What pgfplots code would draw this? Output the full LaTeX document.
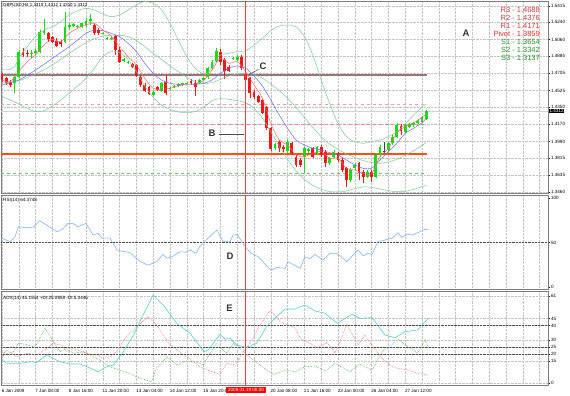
\documentclass[border=0pt]{standalone}
\usepackage{fontspec}
\setmainfont{Liberation Sans}
\usepackage{pgfplots}
\usepackage{pgfplotstable}
\pgfplotsset{compat=1.18}

\definecolor{bullGreen}{RGB}{25,215,25}
\definecolor{bearRed}{RGB}{240,25,25}
\definecolor{bandGreen}{RGB}{125,200,150}
\definecolor{maRed}{RGB}{255,105,105}
\definecolor{maBlue}{RGB}{105,105,250}
\definecolor{levelRthree}{RGB}{150,118,118}
\definecolor{levelRtwo}{RGB}{240,160,160}
\definecolor{levelRone}{RGB}{232,135,135}
\definecolor{levelPivot}{RGB}{255,80,15}
\definecolor{levelSone}{RGB}{110,200,110}
\definecolor{cursorLine}{RGB}{255,60,60}
\definecolor{rsiBlue}{RGB}{125,175,240}
\definecolor{adxCyan}{RGB}{90,205,200}
\definecolor{pdiGreen}{RGB}{70,170,70}
\definecolor{mdiRed}{RGB}{240,100,100}
\definecolor{txtRed}{RGB}{200,60,60}
\definecolor{txtPivot}{RGB}{245,45,45}
\definecolor{txtGreen}{RGB}{40,145,40}
\definecolor{frameGray}{RGB}{125,125,125}
\definecolor{gridGray}{RGB}{195,195,195}

\newcommand{\tk}{\fontsize{4.6}{5}\selectfont}

\pgfplotstableread{
i o h l c
3 1.4600 1.4688 1.4495 1.4663
4 1.4670 1.4950 1.4653 1.4933
7 1.4908 1.4950 1.4863 1.4922
8 1.4915 1.4957 1.4898 1.4943
9 1.4933 1.5160 1.4915 1.5143
10 1.5125 1.5272 1.5108 1.5153
15 1.5038 1.5353 1.5027 1.5188
16 1.5188 1.5230 1.5167 1.5213
17 1.5202 1.5237 1.5188 1.5223
18 1.5195 1.5209 1.5181 1.5200
19 1.5188 1.5237 1.5178 1.5230
20 1.5213 1.5283 1.5195 1.5258
21 1.5258 1.5328 1.5213 1.5276
24 1.5125 1.5143 1.5115 1.5132
25 1.5062 1.5090 1.5055 1.5080
26 1.5066 1.5090 1.5055 1.5080
29 1.4838 1.4863 1.4828 1.4852
30 1.4810 1.4838 1.4800 1.4828
36 1.4478 1.4523 1.4467 1.4513
38 1.4523 1.4618 1.4513 1.4600
40 1.4537 1.4558 1.4523 1.4548
41 1.4558 1.4583 1.4548 1.4572
42 1.4572 1.4600 1.4558 1.4590
43 1.4583 1.4607 1.4572 1.4600
44 1.4600 1.4614 1.4590 1.4605
47 1.4600 1.4649 1.4590 1.4635
48 1.4635 1.4670 1.4625 1.4653
49 1.4663 1.4775 1.4649 1.4758
50 1.4758 1.4845 1.4740 1.4821
51 1.4838 1.4968 1.4828 1.4943
55 1.4852 1.4880 1.4845 1.4870
56 1.4845 1.4894 1.4838 1.4880
65 1.3918 1.3977 1.3900 1.3963
68 1.3893 1.4005 1.3865 1.3988
72 1.3830 1.3935 1.3655 1.3918
73 1.3893 1.3918 1.3872 1.3907
75 1.3865 1.3942 1.3848 1.3935
78 1.3760 1.3830 1.3743 1.3813
79 1.3830 1.3900 1.3813 1.3883
83 1.3585 1.3708 1.3568 1.3690
84 1.3708 1.3760 1.3690 1.3743
87 1.3620 1.3690 1.3603 1.3673
89 1.3620 1.3865 1.3603 1.3848
90 1.3848 1.3953 1.3830 1.3935
92 1.3900 1.3988 1.3883 1.3970
93 1.3970 1.4058 1.3953 1.4040
94 1.4040 1.4180 1.4023 1.4163
96 1.4093 1.4173 1.4075 1.4163
97 1.4145 1.4180 1.4128 1.4170
98 1.4163 1.4198 1.4145 1.4187
99 1.4180 1.4222 1.4170 1.4208
100 1.4198 1.4257 1.4187 1.4243
101 1.4222 1.4320 1.4215 1.4312
}\bulltab

\pgfplotstableread{
i o h l c
0 1.4698 1.4712 1.4618 1.4635
1 1.4653 1.4670 1.4583 1.4600
2 1.4618 1.4635 1.4558 1.4583
5 1.4933 1.4968 1.4873 1.4898
6 1.4922 1.4950 1.4880 1.4908
11 1.5125 1.5143 1.5038 1.5062
12 1.5083 1.5097 1.5020 1.5038
13 1.5048 1.5073 1.4978 1.4992
14 1.5038 1.5055 1.4985 1.5013
22 1.5213 1.5230 1.5108 1.5125
23 1.5160 1.5178 1.5108 1.5125
27 1.5097 1.5108 1.4898 1.4950
28 1.4950 1.4985 1.4810 1.4828
31 1.4803 1.4817 1.4758 1.4775
32 1.4793 1.4803 1.4663 1.4677
33 1.4670 1.4688 1.4565 1.4583
34 1.4583 1.4600 1.4513 1.4523
35 1.4558 1.4572 1.4474 1.4485
37 1.4558 1.4572 1.4520 1.4530
39 1.4618 1.4688 1.4478 1.4495
45 1.4628 1.4642 1.4583 1.4600
46 1.4607 1.4635 1.4467 1.4558
52 1.4933 1.4957 1.4793 1.4828
53 1.4845 1.4863 1.4642 1.4733
54 1.4775 1.4793 1.4723 1.4733
57 1.4880 1.4898 1.4740 1.4758
58 1.4698 1.4740 1.4618 1.4635
59 1.4653 1.4670 1.4443 1.4495
60 1.4513 1.4530 1.4432 1.4453
61 1.4467 1.4478 1.4390 1.4408
62 1.4425 1.4432 1.4278 1.4292
63 1.4355 1.4362 1.4110 1.4128
64 1.4128 1.4145 1.3893 1.3907
66 1.3988 1.4005 1.3883 1.3918
67 1.3935 1.3953 1.3883 1.3911
69 1.3977 1.3988 1.3848 1.3865
70 1.3830 1.3848 1.3725 1.3743
71 1.3795 1.3813 1.3725 1.3743
74 1.3918 1.3935 1.3813 1.3830
76 1.3935 1.3953 1.3830 1.3848
77 1.3883 1.3900 1.3725 1.3760
80 1.3865 1.3883 1.3778 1.3795
81 1.3795 1.3813 1.3673 1.3690
82 1.3708 1.3725 1.3515 1.3585
85 1.3760 1.3778 1.3585 1.3655
86 1.3673 1.3690 1.3550 1.3620
88 1.3673 1.3690 1.3568 1.3620
95 1.4152 1.4173 1.4058 1.4103
}\beartab

\pgfplotstableread{
i o h l c
91 1.3883 1.3988 1.3865 1.3887
}\dojitab

\pgfplotsset{
  mt/.style={
    scale only axis, width=547pt, xmin=-0.238, xmax=130,
    axis line style={draw=frameGray, line width=0.6pt},
    xtick={0,4,...,128},
    xmajorgrids,
    grid style={densely dotted, gridGray, line width=0.35pt},
    xtick style={draw=none},
    ytick pos=right, yticklabel pos=right, tick align=outside,
    ytick style={black, line width=0.35pt}, major tick length=2pt,
    ticklabel style={font=\tk, inner sep=0.8pt},
    /pgf/number format/assume math mode=true,
  },
}

\begin{document}
\begin{tikzpicture}
\useasboundingbox (0pt,0pt) rectangle (570pt,396pt);
\fill[white] (0pt,0pt) rectangle (570pt,396pt);

% ================= MAIN PRICE PANEL =================
\begin{axis}[mt, at={(1pt,395pt)}, anchor=north west, height=192pt,
  ymin=1.34485, ymax=1.54645, ymajorgrids,
  ytick={1.3460,1.3635,1.3815,1.3990,1.4170,1.4350,1.4525,1.4705,1.4885,1.5060,1.5240,1.5415},
  yticklabels={1.3460,1.3635,1.3815,1.3990,1.4170,1.4350,1.4525,1.4705,1.4885,1.5060,1.5240,1.5415},
  xticklabels={}]

\addplot[color=gray!35, line width=0.5pt] coordinates {(-0.2,1.4312) (130,1.4312)};

\addplot[color=levelRtwo, dashed, line width=0.6pt] coordinates {(-0.2,1.4376) (101.2,1.4376)};
\addplot[color=levelRone, dashed, line width=0.6pt] coordinates {(-0.2,1.4171) (101.2,1.4171)};
\addplot[color=levelSone, dashed, line width=0.7pt] coordinates {(-0.2,1.3654) (101.2,1.3654)};
\addplot[color=levelPivot, line width=1.3pt] coordinates {(-0.2,1.3859) (101.2,1.3859)};
\addplot[color=levelRthree, line width=1.2pt] coordinates {(-0.2,1.4688) (101.2,1.4688)};

\addplot[draw=none, mark=none, error bars/.cd, y dir=both, y explicit, error mark=none,
  error bar style={draw=bullGreen, line width=0.55pt}]
  table[x=i, y=o, y error plus expr=\thisrow{h}-\thisrow{o}, y error minus expr=\thisrow{o}-\thisrow{l}] {\bulltab};
\addplot[draw=none, mark=none, error bars/.cd, y dir=both, y explicit, error mark=none,
  error bar style={draw=bearRed, line width=0.55pt}]
  table[x=i, y=o, y error plus expr=\thisrow{h}-\thisrow{o}, y error minus expr=\thisrow{o}-\thisrow{l}] {\beartab};
\addplot[draw=none, mark=none, error bars/.cd, y dir=both, y explicit, error mark=none,
  error bar style={draw=black!75, line width=0.55pt}]
  table[x=i, y=o, y error plus expr=\thisrow{h}-\thisrow{o}, y error minus expr=\thisrow{o}-\thisrow{l}] {\dojitab};
\addplot[draw=none, mark=none, error bars/.cd, y dir=plus, y explicit, error mark=none,
  error bar style={draw=bullGreen, line width=2.7pt}]
  table[x=i, y=o, y error plus expr=\thisrow{c}-\thisrow{o}] {\bulltab};
\addplot[draw=none, mark=none, error bars/.cd, y dir=plus, y explicit, error mark=none,
  error bar style={draw=bearRed, line width=2.7pt}]
  table[x=i, y=c, y error plus expr=\thisrow{o}-\thisrow{c}] {\beartab};
\addplot[draw=none, mark=none, error bars/.cd, y dir=plus, y explicit, error mark=none,
  error bar style={draw=black!75, line width=2.7pt}]
  table[x=i, y=o, y error plus expr=\thisrow{c}-\thisrow{o}] {\dojitab};

\addplot[color=bandGreen, line width=0.5pt, smooth] coordinates {
(0,1.4740) (2,1.4747) (3,1.4775) (4,1.4863) (6,1.4985) (8,1.5090) (10,1.5160) (12,1.5195)
(14,1.5248) (16,1.5318) (18,1.5363) (20,1.5388) (22,1.5370) (24,1.5328) (26,1.5300) (28,1.5318)
(30,1.5370) (32,1.5423) (34,1.5458) (36,1.5440) (38,1.5370) (40,1.5230) (42,1.5055) (44,1.4880)
(46,1.4758) (48,1.4698) (49,1.4712) (50,1.4758) (51,1.4845) (52,1.4898) (54,1.4915) (56,1.4933)
(58,1.4943) (60,1.5003) (62,1.5073) (64,1.5153) (66,1.5202) (68,1.5213) (70,1.5195) (72,1.5090)
(74,1.4898) (76,1.4635) (78,1.4390) (80,1.4180) (82,1.4040) (84,1.3988) (86,1.3970) (88,1.3988)
(90,1.4005) (92,1.4040) (94,1.4093) (96,1.4173) (98,1.4268) (100,1.4348) (101,1.4383)};
\addplot[color=bandGreen, line width=0.5pt, smooth] coordinates {
(0,1.4600) (4,1.4628) (8,1.4698) (12,1.4793) (16,1.4915) (20,1.5027) (24,1.5097) (28,1.5104)
(30,1.5090) (32,1.5048) (34,1.4985) (36,1.4915) (38,1.4852) (40,1.4782) (42,1.4723) (44,1.4663)
(46,1.4618) (48,1.4600) (50,1.4607) (52,1.4642) (54,1.4677) (56,1.4698) (58,1.4705) (60,1.4688)
(62,1.4653) (64,1.4593) (66,1.4523) (68,1.4443) (70,1.4348) (72,1.4243) (74,1.4138) (76,1.4040)
(78,1.3963) (80,1.3907) (82,1.3858) (84,1.3823) (86,1.3788) (88,1.3767) (90,1.3760) (92,1.3774)
(94,1.3802) (96,1.3844) (98,1.3893) (100,1.3949) (101,1.3977)};
\addplot[color=bandGreen, line width=0.5pt, smooth] coordinates {
(0,1.4460) (2,1.4425) (4,1.4383) (6,1.4338) (8,1.4303) (10,1.4313) (12,1.4362) (14,1.4425)
(16,1.4495) (18,1.4572) (20,1.4653) (22,1.4758) (24,1.4880) (26,1.4933) (28,1.4922) (30,1.4852)
(32,1.4723) (34,1.4572) (36,1.4453) (38,1.4373) (40,1.4327) (42,1.4299) (44,1.4292) (46,1.4303)
(48,1.4348) (50,1.4418) (52,1.4439) (54,1.4432) (56,1.4418) (58,1.4397) (60,1.4338) (62,1.4233)
(64,1.4093) (66,1.3942) (68,1.3802) (70,1.3683) (72,1.3592) (74,1.3529) (76,1.3487) (78,1.3463)
(80,1.3459) (82,1.3470) (84,1.3494) (86,1.3512) (88,1.3508) (90,1.3491) (92,1.3473) (94,1.3463)
(96,1.3466) (98,1.3487) (100,1.3515) (101,1.3529)};

\addplot[color=maBlue, line width=0.5pt, smooth] coordinates {
(0,1.4583) (4,1.4635) (8,1.4740) (12,1.4863) (16,1.4985) (18,1.5055) (20,1.5125) (22,1.5160)
(24,1.5153) (26,1.5125) (28,1.5090) (30,1.5020) (32,1.4933) (34,1.4810) (36,1.4705) (38,1.4635)
(40,1.4600) (44,1.4583) (48,1.4600) (50,1.4635) (52,1.4705) (54,1.4758) (56,1.4782) (58,1.4758)
(60,1.4677) (62,1.4572) (64,1.4425) (66,1.4268) (68,1.4128) (70,1.4005) (72,1.3953) (74,1.3918)
(76,1.3900) (78,1.3872) (80,1.3848) (82,1.3795) (84,1.3743) (86,1.3708) (88,1.3708) (90,1.3795)
(92,1.3883) (94,1.3970) (96,1.4075) (98,1.4128) (100,1.4187) (101,1.4233)};
\addplot[color=maRed, line width=0.5pt, smooth] coordinates {
(0,1.4635) (2,1.4618) (4,1.4723) (6,1.4828) (8,1.4898) (10,1.5003) (12,1.5062) (14,1.5038)
(16,1.5125) (18,1.5178) (20,1.5213) (22,1.5230) (24,1.5160) (26,1.5097) (28,1.4985) (30,1.4880)
(32,1.4793) (34,1.4653) (36,1.4548) (38,1.4537) (40,1.4548) (42,1.4572) (44,1.4593) (46,1.4593)
(48,1.4628) (50,1.4740) (52,1.4863) (54,1.4810) (56,1.4828) (58,1.4723) (60,1.4583) (62,1.4443)
(64,1.4180) (66,1.4005) (68,1.3953) (70,1.3848) (72,1.3830) (74,1.3865) (76,1.3883) (78,1.3813)
(80,1.3813) (82,1.3708) (84,1.3690) (86,1.3655) (88,1.3655) (90,1.3830) (92,1.3918) (94,1.4075)
(96,1.4145) (98,1.4187) (100,1.4243) (101,1.4278)};
\end{axis}

% ================= RSI PANEL =================
\begin{axis}[mt, at={(1pt,201pt)}, anchor=north west, height=94pt,
  ymin=-2.2, ymax=103.4, ytick={0,50,100}, yticklabels={0,50,100}, xticklabels={}]
\addplot[color=gray!60!black, densely dotted, line width=0.45pt] coordinates {(-0.2,50) (130,50)};
\addplot[color=rsiBlue, line width=0.55pt] coordinates {
(0,54.7) (1.9,51) (3.1,56.5) (3.9,67.8) (5.1,67) (7.4,67) (9.0,74.5) (11.0,68.5) (13.1,62)
(14.3,64.6) (15.7,71.5) (16.9,71.5) (18.1,67.8) (20,71.5) (21.7,58.4) (22.9,60.3) (23.8,55)
(25.7,55) (27.4,41.6) (28.8,40) (30.5,38.6) (32.9,28.5) (34.8,24.7) (36.9,28.5) (38.3,36.7)
(39.3,32.2) (40.5,34) (42.4,39.7) (43.6,39) (44.8,41.6) (46.2,38) (47.1,45.3) (49,54.7)
(51.2,64) (52.6,51) (54.3,51) (55,58.4) (56,59) (57.9,45.3) (59.3,38) (61,34) (64,19)
(65.5,22) (67.4,21) (68.1,28.5) (71,21) (72.1,34) (73.3,32) (74.5,36.7) (76.4,30.3) (78.1,37.8)
(79.8,37.8) (82.1,28.5) (84.8,41.6) (86,35.2) (87.1,37.8) (88.1,36.7) (89.5,51) (91.2,52.8)
(92.9,55) (94.3,61) (95.2,55.6) (96.4,59.6) (97.6,58.4) (99,61) (100.7,64.8) (101.5,64.4)};
\end{axis}

% ================= ADX PANEL =================
\begin{axis}[mt, at={(1pt,105pt)}, anchor=north west, height=94pt,
  ymin=-1.6, ymax=64.3, ymajorgrids,
  ytick={0,15,20,25,30,40,45,61}, yticklabels={0,15,20,25,30,40,45,61},
  xticklabels={6 Jan 2009,,7 Jan 08:00,,8 Jan 16:00,,11 Jan 20:00,,13 Jan 04:00,,14 Jan 12:00,,15 Jan 20:00,,,,20 Jan 08:00,,21 Jan 16:00,,23 Jan 00:00,,26 Jan 04:00,,27 Jan 12:00,,,,,,,,},
  xticklabel style={anchor=north west, xshift=-1.2pt, yshift=-1.2pt}]
\addplot[color=gray!60!black, densely dotted, line width=0.45pt] coordinates {(-0.2,40) (130,40)};
\addplot[color=gray!60!black, densely dotted, line width=0.45pt] coordinates {(-0.2,25) (130,25)};
\addplot[color=gray!60!black, densely dotted, line width=0.45pt] coordinates {(-0.2,20) (130,20)};
\addplot[color=adxCyan, line width=0.6pt] coordinates {
(0,15.9) (1.1,13.6) (4.3,13.6) (6.7,14.7) (8.3,14.2) (10.6,19.4) (13.8,14.7) (16.2,13.1)
(18.6,13.1) (20.2,11.2) (22.9,7.7) (24.9,11.2) (26.5,12.4) (28.9,21.7) (31.3,33.4) (33.6,47.5)
(36,61.5) (38.4,54.5) (41.6,41.7) (44.8,34.6) (48.1,21.7) (49.1,23) (51.9,33.9) (53.1,30.6)
(54.3,31) (55.9,26.4) (58.3,24.8) (60.6,27.6) (63,39.3) (65.4,46.3) (67.4,51.7) (69.8,51.7)
(72.1,54.5) (74.5,50.3) (76.9,48.7) (79.8,41.7) (83.3,48) (85.2,45.2) (88.1,45.6) (91.2,33.4)
(93.6,31.6) (96,35.8) (99,37) (101.5,45.2)};
\addplot[color=pdiGreen, densely dotted, line width=0.6pt] coordinates {
(0,18.2) (1.1,20.6) (2.7,21.7) (3.9,27.6) (5.5,27) (7.5,25.2) (8.3,27) (10.2,38.1) (11.8,31.1)
(13.8,21.7) (15.4,24) (17,20.6) (19.4,21.7) (21,19.4) (23.3,15.9) (25.7,11.2) (29.7,7.2)
(32.9,3.1) (35.6,0.7) (36.8,10.1) (39.2,18.2) (41.6,12.4) (44,15.2) (46.4,14.5) (47.9,12.4)
(49.5,20.6) (51.1,27.6) (53.5,20.6) (55.1,27.6) (56.7,24.1) (58.3,19.4) (60.6,14.3) (63,8.9)
(64.6,5.9) (66.2,7.3) (67.4,9) (69.8,7.7) (72.1,11.2) (74.5,11.7) (76.9,8.2) (79.3,13.6)
(82.9,7.7) (85.2,12.9) (88.1,8.9) (90.5,21.7) (91.9,24.5) (94.3,30.4) (96.7,25.2) (99,20.6)
(100.7,29.9) (101.5,25.1)};
\addplot[color=mdiRed, densely dotted, line width=0.6pt] coordinates {
(0,19.4) (1.1,22.9) (3.5,18.2) (5.9,20.6) (8.3,19.4) (10.6,24.1) (12.2,27.6) (14.2,26.4)
(15.4,21.7) (17,24.1) (19,21.7) (20.2,20.6) (22.5,19.4) (24.1,17.1) (25.7,18.2) (27.3,21.7)
(29.3,31.1) (32.1,39.3) (34.8,46.3) (36.8,40.5) (40,26.4) (44,18.2) (47.1,11.2) (49.5,8.2)
(51.9,5.9) (53.5,13.6) (55.5,12.4) (57.5,21.7) (59.5,29.9) (61.4,40.5) (63.8,50.3) (65.4,46.3)
(66.2,42.8) (67.4,41) (69.8,38.6) (71,31.1) (73.3,27.6) (75.2,24.5) (77.4,28.3) (79.3,20.6)
(82.1,41) (84.8,26.4) (86.4,33.4) (88.3,25.2) (91.2,14.7) (93.6,10.5) (96.7,8.9) (99,6.6)
(101.5,5.3)};
\end{axis}

% cursor at the selected bar, as thin filled strips
\fill[cursorLine] (245.1pt,203pt) rectangle (246.1pt,395pt);
\fill[cursorLine] (245.1pt,107pt) rectangle (246.1pt,201pt);
\fill[cursorLine] (245.1pt,11pt) rectangle (246.1pt,105pt);

% ================= TEXT =================
\node[anchor=west, inner sep=0pt, font=\fontsize{4.4}{5}\selectfont] at (3pt,390.5pt) {GBPUSD,H4 1.4310 1.4312 1.4310 1.4312};
\node[anchor=west, inner sep=0pt, font=\fontsize{4.6}{5}\selectfont] at (3pt,196pt) {RSI(14) 64.3748};
\node[anchor=west, inner sep=0pt, font=\fontsize{4.6}{5}\selectfont] at (3pt,97.7pt) {ADX(14) 45.1554 +DI:25.0859 -DI:5.3446};

\node[anchor=east, inner sep=0pt, font=\fontsize{7.5}{8}\selectfont, text=txtRed] at (540pt,386pt) {R3 - 1.4688};
\node[anchor=east, inner sep=0pt, font=\fontsize{7.5}{8}\selectfont, text=txtRed] at (540pt,378pt) {R2 - 1.4376};
\node[anchor=east, inner sep=0pt, font=\fontsize{7.5}{8}\selectfont, text=txtRed] at (540pt,370pt) {R1 - 1.4171};
\node[anchor=east, inner sep=0pt, font=\fontsize{7.5}{8}\selectfont, text=txtPivot] at (540pt,362pt) {Pivot - 1.3859};
\node[anchor=east, inner sep=0pt, font=\fontsize{7.5}{8}\selectfont, text=txtGreen] at (540pt,354pt) {S1 - 1.3654};
\node[anchor=east, inner sep=0pt, font=\fontsize{7.5}{8}\selectfont, text=txtGreen] at (540pt,346pt) {S2 - 1.3342};
\node[anchor=east, inner sep=0pt, font=\fontsize{7.5}{8}\selectfont, text=txtGreen] at (540pt,338pt) {S3 - 1.3137};

\node[font=\fontsize{9.5}{10}\selectfont\bfseries, text=black!80] at (466pt,363pt) {A};
\node[font=\fontsize{9.5}{10}\selectfont\bfseries, text=black!80] at (212pt,262.3pt) {B};
\draw[black!70, line width=0.5pt] (219pt,262pt) -- (244pt,262pt);
\node[font=\fontsize{9.5}{10}\selectfont\bfseries, text=black!80] at (263pt,330pt) {C};
\draw[black!70, line width=0.5pt] (258.5pt,326.5pt) -- (249pt,321.5pt);
\node[font=\fontsize{9.5}{10}\selectfont\bfseries, text=black!80] at (230pt,139.5pt) {D};
\node[font=\fontsize{9.5}{10}\selectfont\bfseries, text=black!80] at (229.5pt,87.3pt) {E};

\node[anchor=west, fill=black, text=white, inner sep=0.8pt, font=\tk] at (548.5pt,285pt) {1.4312};
\node[fill=red, text=white, inner sep=0.9pt, font=\tk, minimum width=40pt] at (246pt,6pt) {2009.01.19 08:00};
\end{tikzpicture}
\end{document}
